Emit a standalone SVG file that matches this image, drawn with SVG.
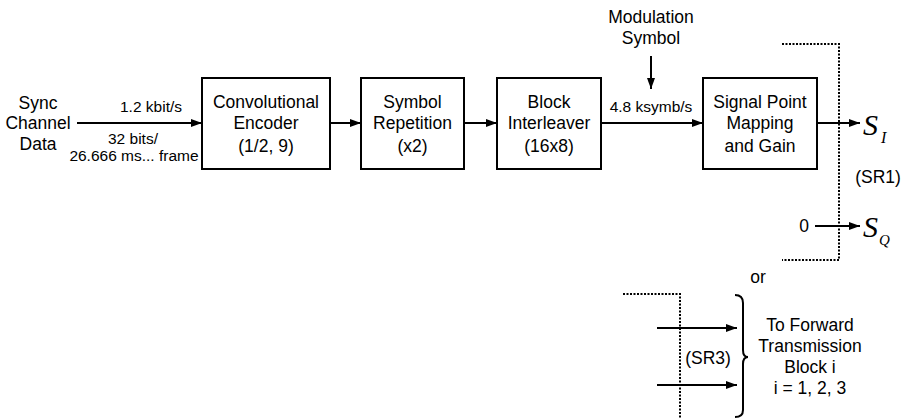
<svg xmlns="http://www.w3.org/2000/svg" width="905" height="418" viewBox="0 0 905 418">
<defs>
<marker id="ah" markerWidth="12" markerHeight="10" refX="11" refY="5" orient="auto" markerUnits="userSpaceOnUse">
<path d="M0,1 L11,5 L0,9 Z" fill="#000"/>
</marker>
<style>
text{font-family:"Liberation Sans",Arial,sans-serif;fill:#000;text-anchor:middle}
.t{font-size:17.5px}
.s{font-size:15.5px}
.box{fill:#fff;stroke:#000;stroke-width:2}
.ln{stroke:#000;stroke-width:2;fill:none}
.dot{stroke:#000;stroke-width:2;fill:none;stroke-dasharray:2 1.5}
.sym{font-family:"Liberation Serif","Times New Roman",serif;font-style:italic;text-anchor:start}
</style>
</defs>
<rect width="905" height="418" fill="#fff"/>

<g id="connectors">
<line class="ln" x1="77" y1="123" x2="202" y2="123" marker-end="url(#ah)"/>
<line class="ln" x1="330" y1="123" x2="361" y2="123" marker-end="url(#ah)"/>
<line class="ln" x1="464" y1="123" x2="497" y2="123" marker-end="url(#ah)"/>
<line class="ln" x1="601" y1="123" x2="703" y2="123" marker-end="url(#ah)"/>
<line class="ln" x1="817" y1="123" x2="860" y2="123" marker-end="url(#ah)"/>
<line class="ln" x1="651" y1="56" x2="651" y2="89" marker-end="url(#ah)"/>
<line class="ln" x1="815" y1="226" x2="860" y2="226" marker-end="url(#ah)"/>
<line class="ln" x1="657" y1="328" x2="737" y2="328" marker-end="url(#ah)"/>
<line class="ln" x1="657" y1="385" x2="737" y2="385" marker-end="url(#ah)"/>
<polyline class="dot" points="782,44 839,44 839,260 782,260"/>
<polyline class="dot" points="623,294 680,294 680,418"/>
<path class="ln" stroke-width="1.8" d="M735,295 Q743,295 743,303 L743,350 Q743,357 748,357 Q743,357 743,364 L743,410 Q743,417 735,417"/>
</g>

<g id="input">
<text class="t" x="38" y="109">Sync</text>
<text class="t" x="38" y="129">Channel</text>
<text class="t" x="38" y="150">Data</text>
<text class="s" x="151" y="112">1.2 kbit/s</text>
<text class="s" x="133" y="144">32 bits/</text>
<text class="s" x="134" y="161">26.666 ms... frame</text>
</g>

<g id="conv-encoder">
<rect class="box" x="202" y="78" width="128" height="91"/>
<text class="t" x="266" y="108">Convolutional</text>
<text class="t" x="266" y="129">Encoder</text>
<text class="t" x="266" y="152">(1/2, 9)</text>
</g>

<g id="symbol-repetition">
<rect class="box" x="361" y="78" width="103" height="91"/>
<text class="t" x="412.5" y="108">Symbol</text>
<text class="t" x="412.5" y="129">Repetition</text>
<text class="t" x="412.5" y="152">(x2)</text>
</g>

<g id="block-interleaver">
<rect class="box" x="497" y="78" width="104" height="91"/>
<text class="t" x="549" y="108">Block</text>
<text class="t" x="549" y="129">Interleaver</text>
<text class="t" x="549" y="152">(16x8)</text>
</g>

<g id="modulation-symbol">
<text class="t" x="651" y="23">Modulation</text>
<text class="t" x="651" y="44">Symbol</text>
<text class="s" x="651" y="112">4.8 ksymb/s</text>
</g>

<g id="signal-point">
<rect class="box" x="703" y="78" width="114" height="91"/>
<text class="t" x="760" y="108">Signal Point</text>
<text class="t" x="760" y="129">Mapping</text>
<text class="t" x="760" y="152">and Gain</text>
</g>

<g id="outputs-sr1">
<text class="sym" x="863" y="135" font-size="30">S</text>
<text class="sym" x="881" y="143" font-size="16">I</text>
<text class="t" x="878" y="183">(SR1)</text>
<text class="t" x="804" y="232">0</text>
<text class="sym" x="863" y="237" font-size="30">S</text>
<text class="sym" x="879" y="245" font-size="15">Q</text>
<text class="t" x="758" y="283">or</text>
</g>

<g id="outputs-sr3">
<text class="t" x="708" y="364">(SR3)</text>
<text class="t" x="810" y="331">To Forward</text>
<text class="t" x="810" y="352">Transmission</text>
<text class="t" x="810" y="373">Block i</text>
<text class="t" x="810" y="394">i = 1, 2, 3</text>
</g>
</svg>
